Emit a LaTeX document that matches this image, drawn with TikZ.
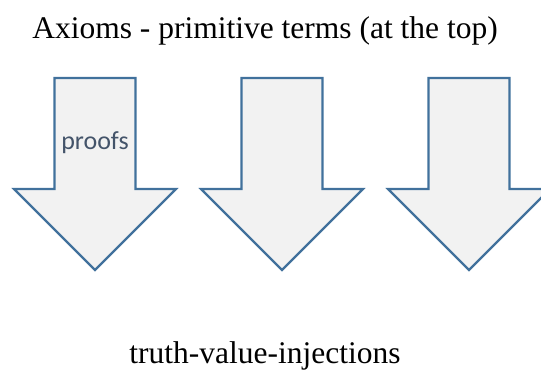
\documentclass[tikz,border=0pt]{standalone}
\usepackage{fontspec}
\setmainfont{Liberation Serif}
\newfontfamily\calib{Carlito}
\begin{document}
\begin{tikzpicture}[x=1pt,y=-1pt,
  downarrow/.style={draw=arrowline, fill=arrowfill, line width=2.25pt, line join=miter},
  heading/.style={font=\fontsize{31.5}{36}\selectfont, anchor=base, inner sep=0pt},
  label/.style={font=\calib\fontsize{26}{30}\selectfont, text=labeltext, inner sep=0pt}]
\definecolor{arrowline}{HTML}{41719C}
\definecolor{arrowfill}{HTML}{F2F2F2}
\definecolor{labeltext}{HTML}{44546A}
\useasboundingbox (0,0) rectangle (541,370);
\begin{scope}
\clip (0,0) rectangle (541,370);
% three block arrows pointing down
\foreach \cx/\nm in {95/a1, 282/a2, 469/a3}{
  \draw[downarrow] (\cx-40.5,78) -- (\cx+40.5,78) -- (\cx+40.5,189)
    -- (\cx+81,189) -- (\cx,270) -- (\cx-81,189) -- (\cx-40.5,189) -- cycle;
  \coordinate (\nm) at (\cx,143);
}
\end{scope}
\node[label] (proofs) at (a1) {proofs};
\node[heading] (top) at (265,38) {Axioms - primitive terms (at the top)};
\node[heading] (bottom) at (265,363) {truth-value-injections};
\end{tikzpicture}
\end{document}
